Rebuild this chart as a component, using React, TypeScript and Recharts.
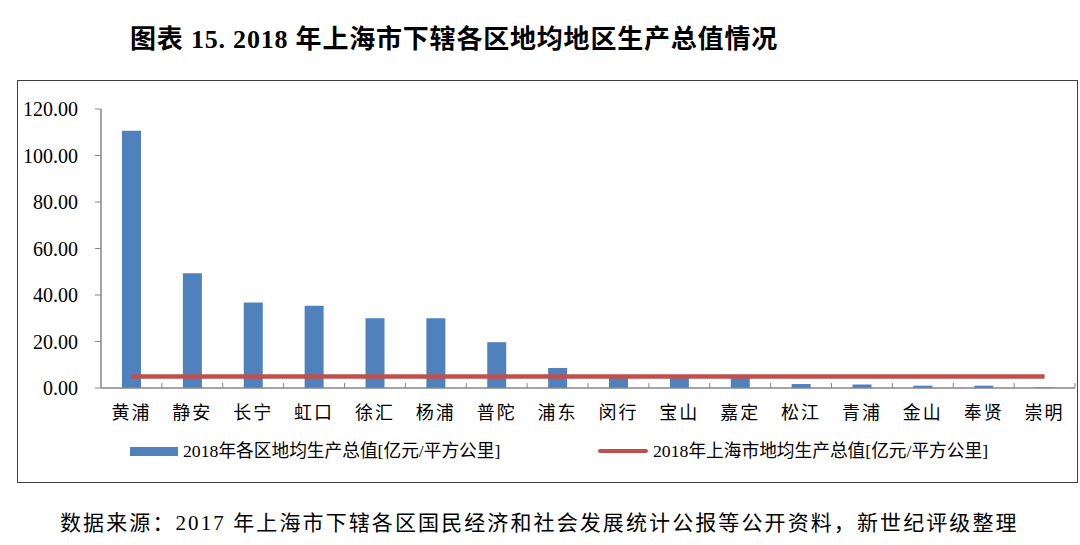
import React from 'react';
import { ComposedChart, Bar, Line, XAxis, YAxis, Legend } from 'recharts';

const districts = ['黄浦', '静安', '长宁', '虹口', '徐汇', '杨浦', '普陀', '浦东', '闵行', '宝山', '嘉定', '松江', '青浦', '金山', '奉贤', '崇明'];
const districtDensity = [110.6, 49.4, 36.8, 35.4, 30.0, 30.0, 19.7, 8.6, 4.8, 4.7, 4.6, 1.7, 1.5, 1.0, 1.0, 0.3];
const cityDensity = [4.9, 4.9, 4.9, 4.9, 4.9, 4.9, 4.9, 4.9, 4.9, 4.9, 4.9, 4.9, 4.9, 4.9, 4.9, 4.9];
const yTicks = [0, 20, 40, 60, 80, 100, 120];

const barName = '2018年各区地均生产总值[亿元/平方公里]';
const lineName = '2018年上海市地均生产总值[亿元/平方公里]';

const data = districts.map((name, i) => ({
  name,
  district: districtDensity[i],
  city: cityDensity[i],
}));

const FONT = "'Liberation Serif', 'Noto Sans CJK SC', serif";
const CHART_W = 1059;
const CHART_H = 401;
const MARGIN = { top: 28, right: 2, left: 0, bottom: 64 };
const Y_AXIS_W = 83;
const BAND = (CHART_W - MARGIN.left - MARGIN.right - Y_AXIS_W) / districts.length;
const TICK_GAP = 25;

const CategoryTick = (props: any) => {
  const { x, y, payload } = props;
  const axisY = y - TICK_GAP;
  const bx = x + BAND / 2;
  return (
    <g>
      <line x1={bx} y1={axisY} x2={bx} y2={axisY - 5} stroke="#868686" strokeWidth={1} />
      <text x={x} y={y} dy="0.35em" textAnchor="middle" fill="#000" fontSize={18} fontFamily={FONT} letterSpacing={2}>
        {payload.value}
      </text>
    </g>
  );
};

const LegendBox = () => (
  <div style={{ position: 'relative', height: 20, fontFamily: FONT, fontSize: 17.7, color: '#000' }}>
    <span style={{ position: 'absolute', left: 112, top: 5.5, width: 48, height: 9, background: '#4F81BD' }} />
    <span style={{ position: 'absolute', left: 165, top: 0, lineHeight: '20px', whiteSpace: 'nowrap' }}>{barName}</span>
    <span style={{ position: 'absolute', left: 580, top: 8, width: 50, height: 4, background: '#C0504D', borderRadius: 2 }} />
    <span style={{ position: 'absolute', left: 635, top: 0, lineHeight: '20px', whiteSpace: 'nowrap' }}>{lineName}</span>
  </div>
);

export default function App() {
  return (
    <div style={{ position: 'absolute', left: 0, top: 0, width: 1080, height: 545, background: '#fff', fontFamily: FONT }}>
      <div style={{ position: 'absolute', left: 130, top: 27, fontSize: 26, lineHeight: '26px', fontWeight: 'bold', letterSpacing: 0.8, whiteSpace: 'nowrap', color: '#000' }}>
        图表 15. 2018 年上海市下辖各区地均地区生产总值情况
      </div>
      <div style={{ position: 'absolute', left: 17, top: 80, width: 1061, height: 403, boxSizing: 'border-box', border: '1px solid #404040' }}>
        <ComposedChart width={CHART_W} height={CHART_H} data={data} margin={MARGIN}>
          <XAxis
            dataKey="name"
            height={30}
            axisLine={{ stroke: '#868686', strokeWidth: 1.5 }}
            tickLine={false}
            tickSize={0}
            tickMargin={TICK_GAP}
            interval={0}
            tick={<CategoryTick />}
          />
          <YAxis
            width={Y_AXIS_W}
            domain={[0, 120]}
            ticks={yTicks}
            tickFormatter={(v: number) => v.toFixed(2)}
            axisLine={{ stroke: '#868686', strokeWidth: 1.5 }}
            tickLine={{ stroke: '#868686' }}
            tickSize={6}
            tickMargin={17}
            tick={{ fill: '#000', fontSize: 20, fontFamily: FONT }}
          />
          <Legend
            layout="horizontal"
            verticalAlign="middle"
            align="center"
            wrapperStyle={{ top: 360, left: 0, width: CHART_W }}
            content={<LegendBox />}
          />
          <Bar dataKey="district" name={barName} fill="#4F81BD" barSize={19} isAnimationActive={false} />
          <Line dataKey="city" name={lineName} stroke="#C0504D" strokeWidth={4.5} dot={false} activeDot={false} isAnimationActive={false} />
        </ComposedChart>
      </div>
      <div style={{ position: 'absolute', left: 60, top: 512, fontSize: 21, lineHeight: '22px', letterSpacing: 2.1, whiteSpace: 'nowrap', color: '#000' }}>
        数据来源：2017 年上海市下辖各区国民经济和社会发展统计公报等公开资料，新世纪评级整理
      </div>
    </div>
  );
}
